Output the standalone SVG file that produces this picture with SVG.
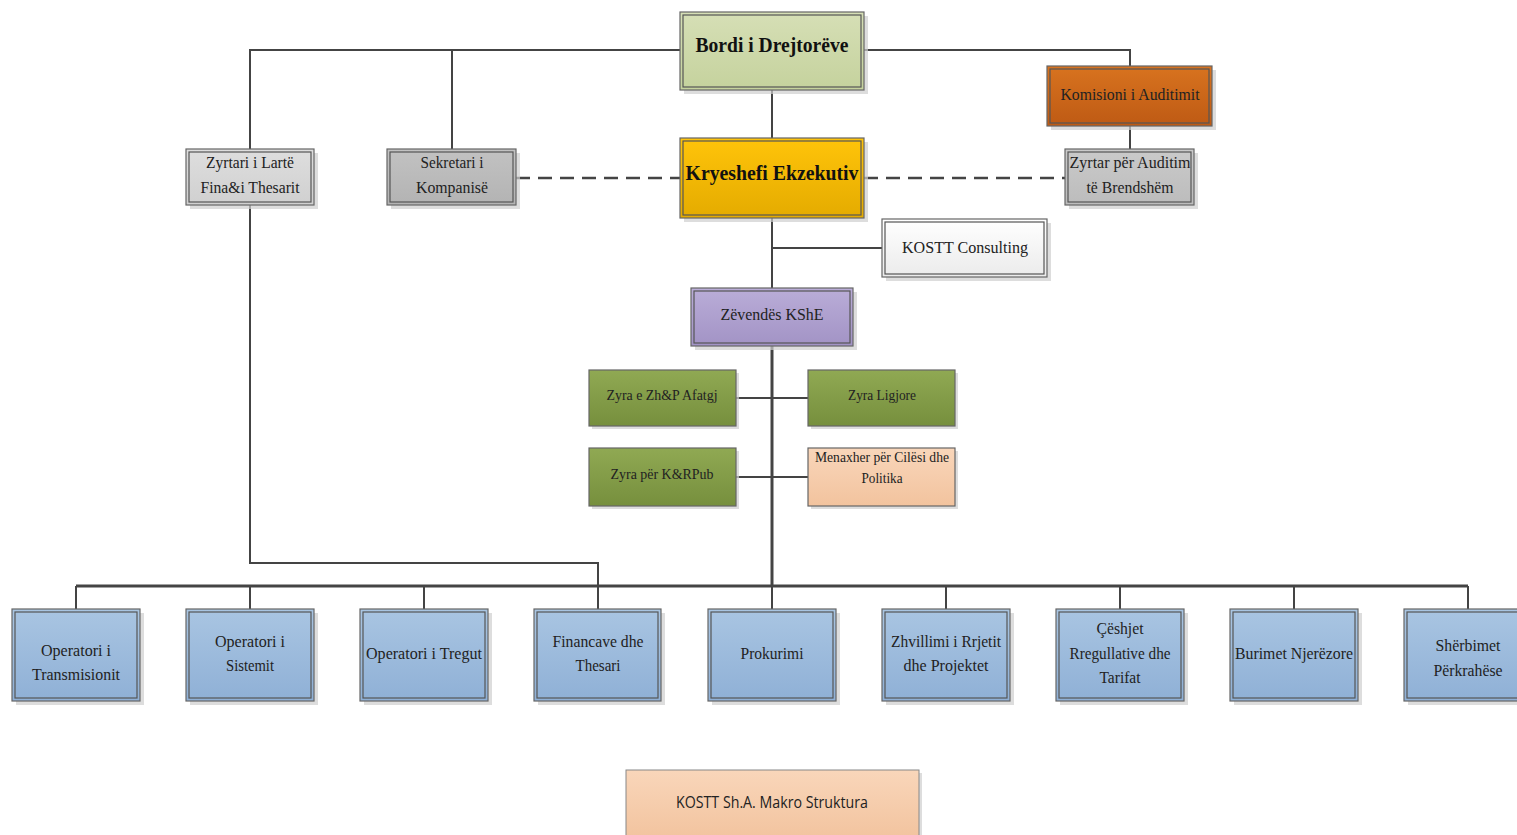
<svg xmlns="http://www.w3.org/2000/svg" width="1517" height="835" viewBox="0 0 1517 835">
<defs>
<linearGradient id="gBlue" x1="0" y1="0" x2="0" y2="1"><stop offset="0" stop-color="#A9C5E2"/><stop offset="1" stop-color="#8FB0D6"/></linearGradient>
<linearGradient id="gGreen" x1="0" y1="0" x2="0" y2="1"><stop offset="0" stop-color="#90A953"/><stop offset="1" stop-color="#768F3D"/></linearGradient>
<linearGradient id="gGold" x1="0" y1="0" x2="0" y2="1"><stop offset="0" stop-color="#FFC40A"/><stop offset="1" stop-color="#E4AB00"/></linearGradient>
<linearGradient id="gOrange" x1="0" y1="0" x2="0" y2="1"><stop offset="0" stop-color="#D8731F"/><stop offset="1" stop-color="#BE5A14"/></linearGradient>
<linearGradient id="gPurple" x1="0" y1="0" x2="0" y2="1"><stop offset="0" stop-color="#BAADD8"/><stop offset="1" stop-color="#A293C5"/></linearGradient>
<linearGradient id="gOlive" x1="0" y1="0" x2="0" y2="1"><stop offset="0" stop-color="#D6DFB6"/><stop offset="1" stop-color="#C5D29D"/></linearGradient>
<linearGradient id="gWhite" x1="0" y1="0" x2="0" y2="1"><stop offset="0" stop-color="#FFFFFF"/><stop offset="1" stop-color="#EBEBEB"/></linearGradient>
<linearGradient id="gPeach" x1="0" y1="0" x2="0" y2="1"><stop offset="0" stop-color="#F9D6BA"/><stop offset="1" stop-color="#F2C39E"/></linearGradient>
<linearGradient id="gGray1" x1="0" y1="0" x2="0" y2="1"><stop offset="0" stop-color="#DEDEDE"/><stop offset="1" stop-color="#D0D0D0"/></linearGradient>
<linearGradient id="gGray2" x1="0" y1="0" x2="0" y2="1"><stop offset="0" stop-color="#C2C2C2"/><stop offset="1" stop-color="#B3B3B3"/></linearGradient>
<linearGradient id="gGray3" x1="0" y1="0" x2="0" y2="1"><stop offset="0" stop-color="#CACACA"/><stop offset="1" stop-color="#BCBCBC"/></linearGradient>
</defs>
<style>
.sh{fill:#cfcfcf;opacity:0.7}
.out{stroke:#666;stroke-width:1.2}
.in{fill:none;stroke:#555;stroke-width:1.2}
.t{font-family:"Liberation Serif","DejaVu Serif",serif;font-size:17px;fill:#222;text-anchor:middle}
.tb{font-family:"Liberation Serif","DejaVu Serif",serif;font-size:22px;font-weight:bold;fill:#111;text-anchor:middle}
.ts{font-family:"Liberation Serif","DejaVu Serif",serif;font-size:15px;fill:#222;text-anchor:middle}
.c{fill:none;stroke:#444;stroke-width:2}
.ck{fill:none;stroke:#444;stroke-width:3}
.d{fill:none;stroke:#444;stroke-width:2.5;stroke-dasharray:14 8}
</style>
<rect width="1517" height="835" fill="#fff"/>
<g id="connectors">
<path class="c" d="M680 50 H250 V149"/>
<path class="c" d="M452 50 V149"/>
<path class="c" d="M864 50 H1130 V66"/>
<path class="c" d="M1130 126 V149"/>
<path class="c" d="M772 90 V138"/>
<path class="d" d="M516 178 H680"/>
<path class="d" d="M864 178 H1065"/>
<path class="c" d="M772 218 V288"/>
<path class="c" d="M772 248 H882"/>
<path class="ck" d="M772 346 V586"/>
<path class="c" d="M736 398 H808"/>
<path class="c" d="M736 477 H808"/>
<path class="c" d="M250 205 V563 H598 V609"/>
<path class="ck" d="M76 586 H1468"/>
<path class="c" d="M76 586 V609 M250 586 V609 M424 586 V609 M772 586 V609 M946 586 V609 M1120 586 V609 M1294 586 V609 M1468 586 V609"/>
</g>
<g id="bordi">
<rect class="sh" x="684" y="16" width="184" height="78"/>
<rect class="out" x="680" y="12" width="184" height="78" fill="url(#gOlive)"/>
<rect class="in" x="683" y="15" width="178" height="72"/>
<text class="tb" x="772" y="52" textLength="153" lengthAdjust="spacingAndGlyphs">Bordi i Drejtorëve</text>
</g>
<g id="kryeshefi">
<rect class="sh" x="684" y="142" width="184" height="80"/>
<rect class="out" x="680" y="138" width="184" height="80" fill="url(#gGold)"/>
<rect class="in" x="683" y="141" width="178" height="74"/>
<text class="tb" x="772" y="180" textLength="173" lengthAdjust="spacingAndGlyphs">Kryeshefi Ekzekutiv</text>
</g>
<g id="komisioni">
<rect class="sh" x="1051" y="70" width="165" height="60"/>
<rect class="out" x="1047" y="66" width="165" height="60" fill="url(#gOrange)"/>
<rect class="in" x="1050" y="69" width="159" height="54"/>
<text class="t" x="1130" y="100" textLength="139" lengthAdjust="spacingAndGlyphs">Komisioni i Auditimit</text>
</g>
<g id="zyrtar-auditim">
<rect class="sh" x="1069" y="153" width="129" height="56"/>
<rect class="out" x="1065" y="149" width="129" height="56" fill="url(#gGray3)"/>
<rect class="in" x="1068" y="152" width="123" height="50"/>
<text class="t" x="1130" y="168" textLength="121" lengthAdjust="spacingAndGlyphs">Zyrtar për Auditim</text>
<text class="t" x="1130" y="193" textLength="87" lengthAdjust="spacingAndGlyphs">të Brendshëm</text>
</g>
<g id="zyrtari-larte">
<rect class="sh" x="190" y="153" width="128" height="56"/>
<rect class="out" x="186" y="149" width="128" height="56" fill="url(#gGray1)"/>
<rect class="in" x="189" y="152" width="122" height="50"/>
<text class="t" x="250" y="168" textLength="88" lengthAdjust="spacingAndGlyphs">Zyrtari i Lartë</text>
<text class="t" x="250" y="193" textLength="99" lengthAdjust="spacingAndGlyphs">Fina&amp;i Thesarit</text>
</g>
<g id="sekretari">
<rect class="sh" x="391" y="153" width="129" height="56"/>
<rect class="out" x="387" y="149" width="129" height="56" fill="url(#gGray2)"/>
<rect class="in" x="390" y="152" width="123" height="50"/>
<text class="t" x="452" y="168" textLength="63" lengthAdjust="spacingAndGlyphs">Sekretari i</text>
<text class="t" x="452" y="193" textLength="72" lengthAdjust="spacingAndGlyphs">Kompanisë</text>
</g>
<g id="kostt-consulting">
<rect class="sh" x="886" y="223" width="165" height="58"/>
<rect class="out" x="882" y="219" width="165" height="58" fill="url(#gWhite)"/>
<rect class="in" x="885" y="222" width="159" height="52"/>
<text class="t" x="965" y="253" textLength="126" lengthAdjust="spacingAndGlyphs">KOSTT Consulting</text>
</g>
<g id="zevendes">
<rect class="sh" x="695" y="292" width="162" height="58"/>
<rect class="out" x="691" y="288" width="162" height="58" fill="url(#gPurple)"/>
<rect class="in" x="694" y="291" width="156" height="52"/>
<text class="t" x="772" y="320" textLength="103" lengthAdjust="spacingAndGlyphs">Zëvendës KShE</text>
</g>
<g id="zyra-zhp">
<rect class="sh" x="592" y="373" width="147" height="56"/>
<rect class="out" x="589" y="370" width="147" height="56" fill="url(#gGreen)"/>
<text class="ts" x="662" y="400" textLength="111" lengthAdjust="spacingAndGlyphs">Zyra e Zh&amp;P Afatgj</text>
</g>
<g id="zyra-ligjore">
<rect class="sh" x="811" y="373" width="147" height="56"/>
<rect class="out" x="808" y="370" width="147" height="56" fill="url(#gGreen)"/>
<text class="ts" x="882" y="400" textLength="68" lengthAdjust="spacingAndGlyphs">Zyra Ligjore</text>
</g>
<g id="zyra-krpub">
<rect class="sh" x="592" y="451" width="147" height="58"/>
<rect class="out" x="589" y="448" width="147" height="58" fill="url(#gGreen)"/>
<text class="ts" x="662" y="479" textLength="103" lengthAdjust="spacingAndGlyphs">Zyra për K&amp;RPub</text>
</g>
<g id="menaxher">
<rect class="sh" x="811" y="451" width="147" height="58"/>
<rect class="out" x="808" y="448" width="147" height="58" fill="url(#gPeach)"/>
<text class="ts" x="882" y="462" textLength="134" lengthAdjust="spacingAndGlyphs">Menaxher për Cilësi dhe</text>
<text class="ts" x="882" y="483" textLength="41" lengthAdjust="spacingAndGlyphs">Politika</text>
</g>
<g id="operatori-transmisionit">
<rect class="sh" x="16" y="613" width="128" height="92"/>
<rect class="out" x="12" y="609" width="128" height="92" fill="url(#gBlue)"/>
<rect class="in" x="15" y="612" width="122" height="86"/>
<text class="t" x="76" y="656" textLength="70" lengthAdjust="spacingAndGlyphs">Operatori i</text>
<text class="t" x="76" y="680" textLength="88" lengthAdjust="spacingAndGlyphs">Transmisionit</text>
</g>
<g id="operatori-sistemit">
<rect class="sh" x="190" y="613" width="128" height="92"/>
<rect class="out" x="186" y="609" width="128" height="92" fill="url(#gBlue)"/>
<rect class="in" x="189" y="612" width="122" height="86"/>
<text class="t" x="250" y="647" textLength="70" lengthAdjust="spacingAndGlyphs">Operatori i</text>
<text class="t" x="250" y="671" textLength="48" lengthAdjust="spacingAndGlyphs">Sistemit</text>
</g>
<g id="operatori-tregut">
<rect class="sh" x="364" y="613" width="128" height="92"/>
<rect class="out" x="360" y="609" width="128" height="92" fill="url(#gBlue)"/>
<rect class="in" x="363" y="612" width="122" height="86"/>
<text class="t" x="424" y="659" textLength="116" lengthAdjust="spacingAndGlyphs">Operatori i Tregut</text>
</g>
<g id="financave">
<rect class="sh" x="538" y="613" width="127" height="92"/>
<rect class="out" x="534" y="609" width="127" height="92" fill="url(#gBlue)"/>
<rect class="in" x="537" y="612" width="121" height="86"/>
<text class="t" x="598" y="647" textLength="91" lengthAdjust="spacingAndGlyphs">Financave dhe</text>
<text class="t" x="598" y="671" textLength="45" lengthAdjust="spacingAndGlyphs">Thesari</text>
</g>
<g id="prokurimi">
<rect class="sh" x="712" y="613" width="128" height="92"/>
<rect class="out" x="708" y="609" width="128" height="92" fill="url(#gBlue)"/>
<rect class="in" x="711" y="612" width="122" height="86"/>
<text class="t" x="772" y="659" textLength="63" lengthAdjust="spacingAndGlyphs">Prokurimi</text>
</g>
<g id="zhvillimi">
<rect class="sh" x="886" y="613" width="128" height="92"/>
<rect class="out" x="882" y="609" width="128" height="92" fill="url(#gBlue)"/>
<rect class="in" x="885" y="612" width="122" height="86"/>
<text class="t" x="946" y="647" textLength="110" lengthAdjust="spacingAndGlyphs">Zhvillimi i Rrjetit</text>
<text class="t" x="946" y="671" textLength="85" lengthAdjust="spacingAndGlyphs">dhe Projektet</text>
</g>
<g id="ceshjet">
<rect class="sh" x="1060" y="613" width="128" height="92"/>
<rect class="out" x="1056" y="609" width="128" height="92" fill="url(#gBlue)"/>
<rect class="in" x="1059" y="612" width="122" height="86"/>
<text class="t" x="1120" y="634" textLength="47" lengthAdjust="spacingAndGlyphs">Çëshjet</text>
<text class="t" x="1120" y="659" textLength="101" lengthAdjust="spacingAndGlyphs">Rregullative dhe</text>
<text class="t" x="1120" y="683" textLength="41" lengthAdjust="spacingAndGlyphs">Tarifat</text>
</g>
<g id="burimet">
<rect class="sh" x="1234" y="613" width="128" height="92"/>
<rect class="out" x="1230" y="609" width="128" height="92" fill="url(#gBlue)"/>
<rect class="in" x="1233" y="612" width="122" height="86"/>
<text class="t" x="1294" y="659" textLength="118" lengthAdjust="spacingAndGlyphs">Burimet Njerëzore</text>
</g>
<g id="sherbimet">
<rect class="sh" x="1408" y="613" width="128" height="92"/>
<rect class="out" x="1404" y="609" width="128" height="92" fill="url(#gBlue)"/>
<rect class="in" x="1407" y="612" width="122" height="86"/>
<text class="t" x="1468" y="651" textLength="65" lengthAdjust="spacingAndGlyphs">Shërbimet</text>
<text class="t" x="1468" y="676" textLength="69" lengthAdjust="spacingAndGlyphs">Përkrahëse</text>
</g>
<g id="title">
<rect class="sh" x="629" y="773" width="293" height="70"/>
<rect x="626" y="770" width="293" height="70" fill="url(#gPeach)" stroke="#888" stroke-width="1"/>
<text x="772" y="808" font-family="'Open Sans','Liberation Sans',sans-serif" font-size="16" fill="#222" text-anchor="middle" textLength="192" lengthAdjust="spacingAndGlyphs">KOSTT Sh.A. Makro Struktura</text>
</g>
</svg>
